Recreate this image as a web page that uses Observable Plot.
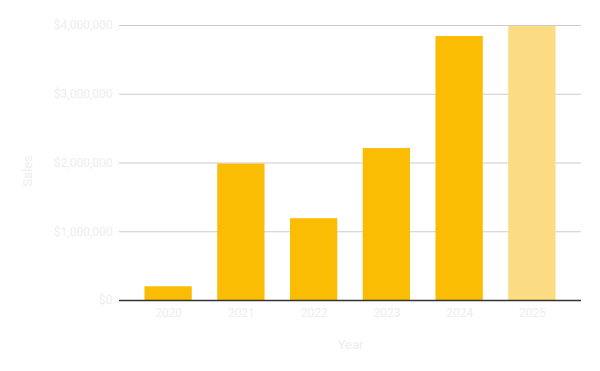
<!DOCTYPE html>
<html>
<head>
<meta charset="utf-8">
<script src="https://cdn.jsdelivr.net/npm/d3@7"></script>
<script src="https://cdn.jsdelivr.net/npm/@observablehq/plot@0.6"></script>
<style>
  html, body { margin: 0; padding: 0; background: #ffffff; }
  #chart svg { display: block; }
</style>
</head>
<body>
<div id="chart"></div>
<script>
const years = ["2020", "2021", "2022", "2023", "2024", "2025"];
const sales = [200000, 1985000, 1190000, 2210000, 3840000, 3985000];
const barColors = ["#fbbc04", "#fbbc04", "#fbbc04", "#fbbc04", "#fbbc04", "#fcdc82"];
const yTicks = [0, 1000000, 2000000, 3000000, 4000000];

const data = years.map((y, i) => ({year: y, sales: sales[i], color: barColors[i]}));
const textColor = "#eeeeee";

const chart = Plot.plot({
  width: 600,
  height: 371,
  marginLeft: 119,
  marginRight: 19,
  marginTop: 25,
  marginBottom: 71,
  style: {fontFamily: "Roboto, sans-serif", background: "#ffffff"},
  x: {domain: years, padding: 0.35, round: false, label: null},
  y: {domain: [0, 4000000], label: null},
  marks: [
    Plot.gridY(yTicks, {stroke: "#cccccc", strokeOpacity: 1, strokeWidth: 1}),
    Plot.barY(data, {x: "year", y: "sales", fill: "color"}),
    Plot.ruleY([0], {stroke: "#333333", strokeWidth: 1.3}),
    Plot.axisY(yTicks, {tickSize: 0, tickPadding: 7, tickFormat: d3.format("$,"), fill: textColor, fontSize: 12, label: null}),
    Plot.axisX({tickSize: 0, tickPadding: 8, fill: textColor, fontSize: 12, label: null}),
    Plot.text(["Sales"], {frameAnchor: "left", textAnchor: "middle", dx: -92, dy: 8, rotate: -90, fill: textColor, fontSize: 13}),
    Plot.text(["Year"], {frameAnchor: "bottom", dy: 48, fill: textColor, fontSize: 13})
  ]
});
document.getElementById("chart").appendChild(chart);
</script>
</body>
</html>
